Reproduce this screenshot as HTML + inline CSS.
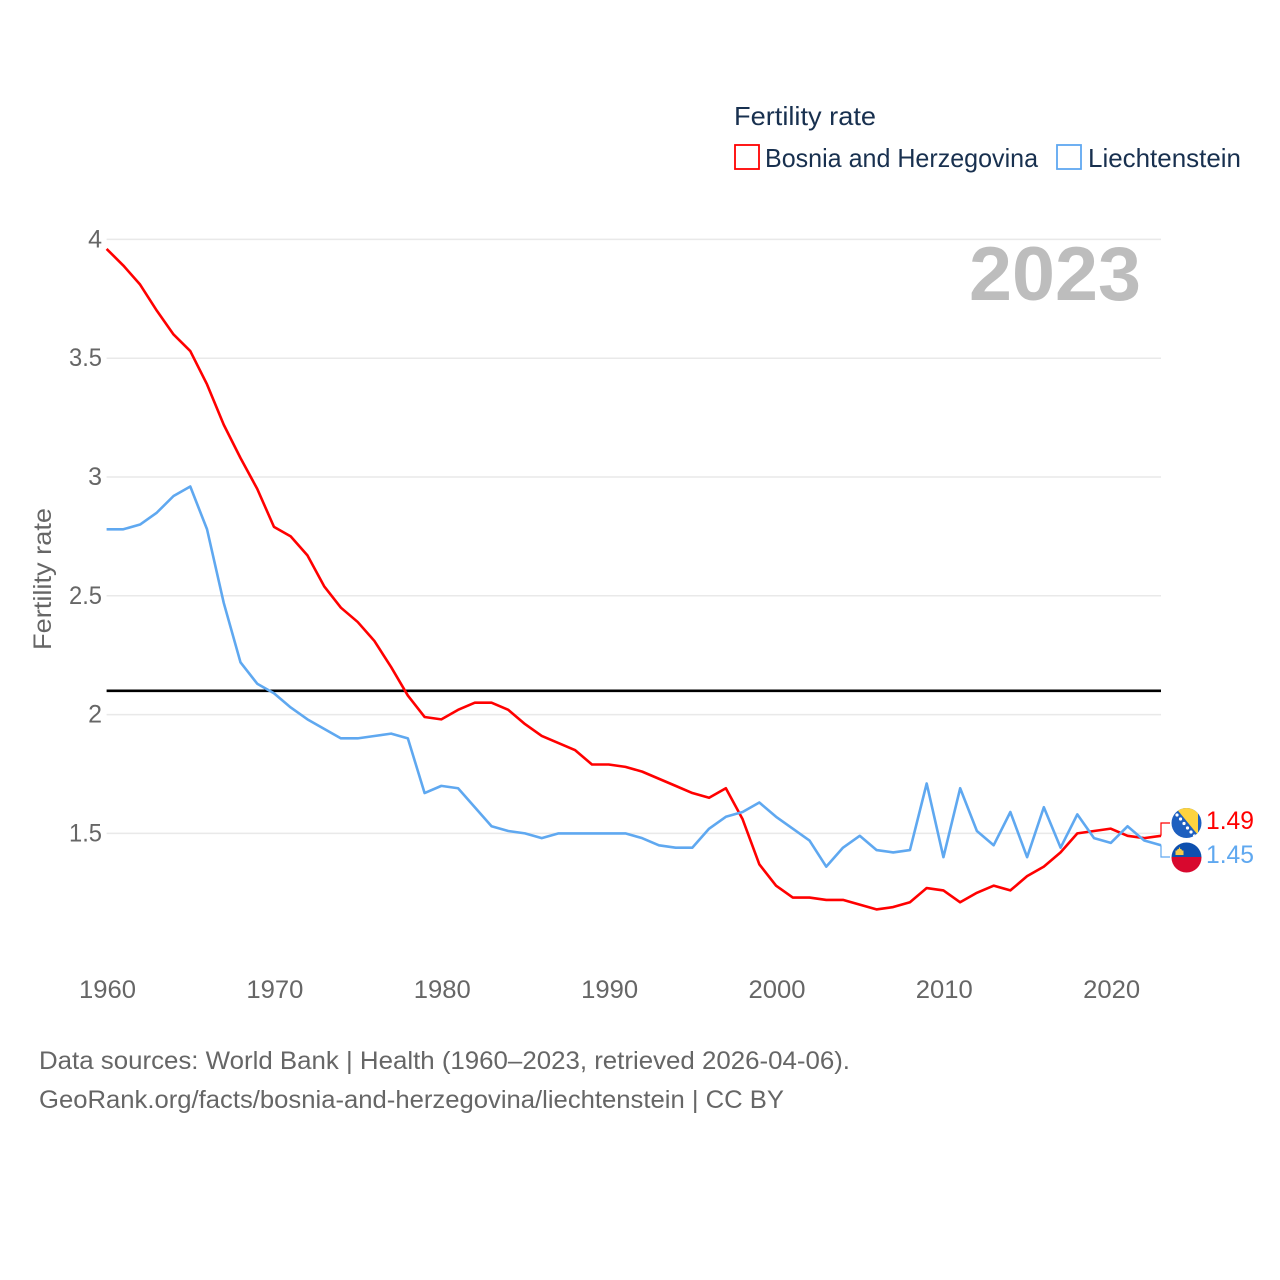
<!DOCTYPE html>
<html lang="en">
<head>
<meta charset="utf-8">
<title>Fertility rate: Bosnia and Herzegovina vs Liechtenstein</title>
<style>
html,body{margin:0;padding:0;background:#fff}
svg{display:block}
text{font-family:"Liberation Sans",sans-serif}
</style>
</head>
<body>
<svg id="chart" width="1280" height="1280" viewBox="0 0 1280 1280" xmlns="http://www.w3.org/2000/svg">
  <defs>
    <clipPath id="clip-bih"><circle cx="1186.5" cy="823" r="15"/></clipPath>
    <clipPath id="clip-li"><circle cx="1186.5" cy="857.5" r="15"/></clipPath>
  </defs>
  <rect x="0" y="0" width="1280" height="1280" fill="#fff"/>

  <g id="gridlines"></g>
  <g id="y-ticks"></g>
  <g id="x-ticks"></g>

  <text transform="translate(51,650) rotate(-90)" font-size="25" fill="#666" textLength="142" lengthAdjust="spacingAndGlyphs">Fertility rate</text>

  <text x="969" y="300" font-size="76" font-weight="700" fill="#bdbdbd" textLength="172" lengthAdjust="spacingAndGlyphs">2023</text>

  <line id="reference-line" stroke="#000" stroke-width="2.6"/>
  <polyline id="line-bih" fill="none" stroke="#ff0000" stroke-width="2.6" stroke-linejoin="round"/>
  <polyline id="line-li" fill="none" stroke="#5fa8f0" stroke-width="2.6" stroke-linejoin="round"/>
  <polyline id="connector-bih" fill="none" stroke="#ff0000" stroke-width="1.2"/>
  <polyline id="connector-li" fill="none" stroke="#5fa8f0" stroke-width="1.2"/>

  <g clip-path="url(#clip-bih)">
    <rect x="1171" y="807" width="31" height="32" fill="#1d5fbf"/>
    <polygon points="1175,807 1198,807 1198,835" fill="#fdd33f"/>
    <g fill="#fff">
      <circle cx="1174" cy="811" r="1.6"/><circle cx="1177" cy="815" r="1.6"/><circle cx="1180.5" cy="819" r="1.6"/>
      <circle cx="1184" cy="823.5" r="1.6"/><circle cx="1187.5" cy="828" r="1.6"/><circle cx="1191" cy="832" r="1.6"/><circle cx="1194.5" cy="836" r="1.6"/>
    </g>
  </g>
  <g clip-path="url(#clip-li)">
    <rect x="1171" y="842" width="31" height="15.5" fill="#0d4fae"/>
    <rect x="1171" y="857" width="31" height="16" fill="#d8082e"/>
    <path d="M1175.5 855v-4.5h1.5l.7-1.5h1.2v-1.5h1.2v1.5h1.2l.7 1.5h1.5v4.5z" fill="#f5cb4a"/>
  </g>

  <text x="1206" y="829" font-size="25" fill="#ff0000" textLength="48" lengthAdjust="spacingAndGlyphs">1.49</text>
  <text x="1206" y="863" font-size="25" fill="#5fa8f0" textLength="48" lengthAdjust="spacingAndGlyphs">1.45</text>

  <g>
    <text x="734" y="125" font-size="26" fill="#18304f" textLength="142" lengthAdjust="spacingAndGlyphs">Fertility rate</text>
    <rect x="735" y="145" width="24" height="24" fill="#fff" stroke="#ff0000" stroke-width="1.8"/>
    <text x="765" y="167" font-size="26" fill="#18304f" textLength="273" lengthAdjust="spacingAndGlyphs">Bosnia and Herzegovina</text>
    <rect x="1057" y="145" width="24" height="24" fill="#fff" stroke="#5fa8f0" stroke-width="1.8"/>
    <text x="1088" y="167" font-size="26" fill="#18304f" textLength="153" lengthAdjust="spacingAndGlyphs">Liechtenstein</text>
  </g>

  <text x="39" y="1069" font-size="25" fill="#666" textLength="811" lengthAdjust="spacingAndGlyphs">Data sources: World Bank | Health (1960–2023, retrieved 2026-04-06).</text>
  <text x="39" y="1108" font-size="25" fill="#666" textLength="745" lengthAdjust="spacingAndGlyphs">GeoRank.org/facts/bosnia-and-herzegovina/liechtenstein | CC BY</text>
</svg>

<script>
const startYear = 1960;
const yearTicks = [1960, 1970, 1980, 1990, 2000, 2010, 2020];
const yTicks = [1.5, 2, 2.5, 3, 3.5, 4];
const replacementRate = 2.1;
const bosniaValues = [3.96,3.89,3.81,3.70,3.60,3.53,3.39,3.22,3.08,2.95,2.79,2.75,2.67,2.54,2.45,2.39,2.31,2.20,2.08,1.99,1.98,2.02,2.05,2.05,2.02,1.96,1.91,1.88,1.85,1.79,1.79,1.78,1.76,1.73,1.70,1.67,1.65,1.69,1.56,1.37,1.28,1.23,1.23,1.22,1.22,1.20,1.18,1.19,1.21,1.27,1.26,1.21,1.25,1.28,1.26,1.32,1.36,1.42,1.50,1.51,1.52,1.49,1.48,1.49];
const liechtensteinValues = [2.78,2.78,2.80,2.85,2.92,2.96,2.78,2.47,2.22,2.13,2.09,2.03,1.98,1.94,1.90,1.90,1.91,1.92,1.90,1.67,1.70,1.69,1.61,1.53,1.51,1.50,1.48,1.50,1.50,1.50,1.50,1.50,1.48,1.45,1.44,1.44,1.52,1.57,1.59,1.63,1.57,1.52,1.47,1.36,1.44,1.49,1.43,1.42,1.43,1.71,1.40,1.69,1.51,1.45,1.59,1.40,1.61,1.44,1.58,1.48,1.46,1.53,1.47,1.45];

const SVG_NS = 'http://www.w3.org/2000/svg';
const xScale = function (year) { return 106.6 + (year - 1960) * (1161 - 106.6) / 63; };
const yScale = function (value) { return 833.4 - (value - 1.5) * 237.6; };
const pointsFor = function (values) {
  return values.map(function (v, i) {
    return xScale(startYear + i).toFixed(2) + ',' + yScale(v).toFixed(2);
  }).join(' ');
};

const gridGroup = document.getElementById('gridlines');
const yTickGroup = document.getElementById('y-ticks');
const xTickGroup = document.getElementById('x-ticks');

yTicks.forEach(function (tick) {
  const gridLine = document.createElementNS(SVG_NS, 'line');
  
  
  gridLine.setAttribute('x1', xScale(1960));
  gridLine.setAttribute('x2', xScale(2023));
  gridLine.setAttribute('y1', yScale(tick));
  gridLine.setAttribute('y2', yScale(tick));
  gridLine.setAttribute('stroke', '#e9e9e9');
  gridLine.setAttribute('stroke-width', '1.5');
  gridGroup.appendChild(gridLine);

  const label = document.createElementNS(SVG_NS, 'text');
  
  
  label.setAttribute('x', '102');
  label.setAttribute('y', yScale(tick) + 8);
  label.setAttribute('text-anchor', 'end');
  label.setAttribute('font-size', '25');
  label.setAttribute('fill', '#666');
  if (String(tick).length > 1) {
    label.setAttribute('textLength', '33');
    label.setAttribute('lengthAdjust', 'spacingAndGlyphs');
  }
  label.textContent = String(tick);
  yTickGroup.appendChild(label);
});

yearTicks.forEach(function (year) {
  const label = document.createElementNS(SVG_NS, 'text');
  
  
  label.setAttribute('x', xScale(year) + 0.9);
  label.setAttribute('y', '998');
  label.setAttribute('text-anchor', 'middle');
  label.setAttribute('font-size', '25');
  label.setAttribute('fill', '#666');
  label.setAttribute('textLength', '57');
  label.setAttribute('lengthAdjust', 'spacingAndGlyphs');
  label.textContent = String(year);
  xTickGroup.appendChild(label);
});

const referenceLine = document.getElementById('reference-line');
referenceLine.setAttribute('x1', xScale(1960));
referenceLine.setAttribute('x2', xScale(2023));
referenceLine.setAttribute('y1', yScale(replacementRate));
referenceLine.setAttribute('y2', yScale(replacementRate));

document.getElementById('line-bih').setAttribute('points', pointsFor(bosniaValues));
document.getElementById('line-li').setAttribute('points', pointsFor(liechtensteinValues));

const endX = xScale(2023);
const bosniaEndY = yScale(bosniaValues[bosniaValues.length - 1]);
const liechtensteinEndY = yScale(liechtensteinValues[liechtensteinValues.length - 1]);
document.getElementById('connector-bih').setAttribute('points', endX + ',' + bosniaEndY + ' ' + endX + ',823 1170,823');
document.getElementById('connector-li').setAttribute('points', endX + ',' + liechtensteinEndY + ' ' + endX + ',857 1170,857');
</script>
</body>
</html>
